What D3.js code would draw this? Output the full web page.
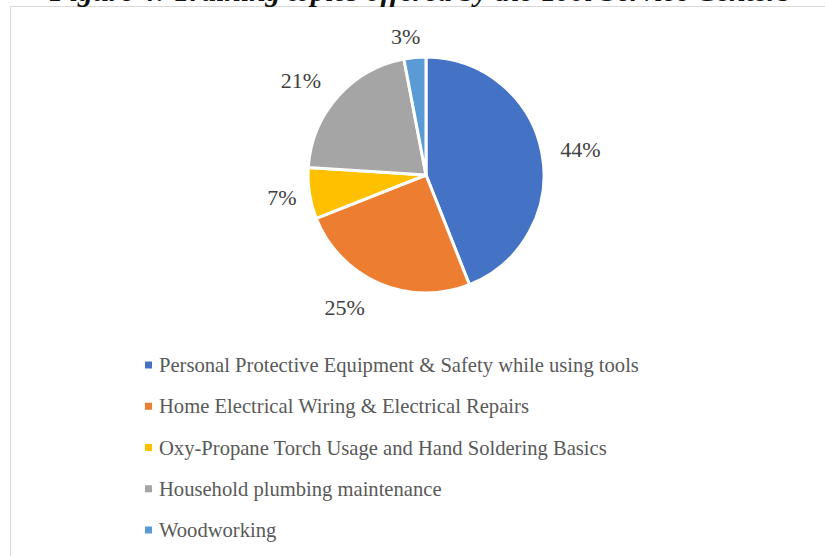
<!DOCTYPE html>
<html>
<head>
<meta charset="utf-8">
<script src="https://cdn.jsdelivr.net/npm/d3@7"></script>
<style>
  html, body { margin: 0; padding: 0; background: #fff; }
  svg { display: block; }
</style>
</head>
<body>
<svg id="chart" width="825" height="556"></svg>
<script>
// Training topics and their share of sessions (%)
const categories = [
  "Personal Protective Equipment & Safety while using tools",
  "Home Electrical Wiring & Electrical Repairs",
  "Oxy-Propane Torch Usage and Hand Soldering Basics",
  "Household plumbing maintenance",
  "Woodworking"
];
const values = [44, 25, 7, 21, 3];
const sliceColors = ["#4472C4", "#ED7D31", "#FFC000", "#A5A5A5", "#5B9BD5"];
const titleText = "Figure 4: Training topics offered by the Tool Service Centers";

const svg = d3.select("#chart");
const W = 825, H = 556;

// Chart area frame
svg.append("rect")
  .attr("x", 10.5).attr("y", 6.5)
  .attr("width", W + 20).attr("height", H + 20)
  .attr("fill", "#fff")
  .attr("stroke", "#d9d9d9")
  .attr("stroke-width", 1);

// Figure caption sits above the chart frame
svg.append("text")
  .attr("x", 420)
  .attr("y", 0.5)
  .attr("text-anchor", "middle")
  .attr("font-family", "'Liberation Serif', serif")
  .attr("font-weight", "bold")
  .attr("font-style", "italic")
  .attr("font-size", 27)
  .attr("textLength", 740)
  .attr("lengthAdjust", "spacingAndGlyphs")
  .attr("fill", "#111")
  .text(titleText);

const cx = 426, cy = 175, R = 118;
const color = d3.scaleOrdinal().domain(categories).range(sliceColors);

const pie = d3.pie().sort(null).value(d => d.value);
const data = categories.map((c, i) => ({ name: c, value: values[i] }));
const arcs = pie(data);

const arc = d3.arc().innerRadius(0).outerRadius(R);
const labelArc = d3.arc().innerRadius(R + 34).outerRadius(R + 34);
// best-fit style nudges for the percentage labels, per slice
const labelNudge = [[5, 3], [-21, -7], [6, -1], [-11, 6], [-6, 13]];

const g = svg.append("g").attr("transform", `translate(${cx},${cy})`);

g.selectAll("path.slice")
  .data(arcs)
  .join("path")
  .attr("class", "slice")
  .attr("d", arc)
  .attr("fill", d => color(d.data.name))
  .attr("stroke", "#fff")
  .attr("stroke-width", 3)
  .attr("stroke-linejoin", "round");

const total = d3.sum(values);
g.selectAll("text.pct")
  .data(arcs)
  .join("text")
  .attr("class", "pct")
  .attr("transform", (d, i) => {
    const [x, y] = labelArc.centroid(d);
    return `translate(${x + labelNudge[i][0]},${y + labelNudge[i][1]})`;
  })
  .attr("text-anchor", "middle")
  .attr("dy", "0.35em")
  .attr("font-family", "'Liberation Serif', serif")
  .attr("font-size", 22)
  .attr("fill", "#404040")
  .text(d => Math.round(d.data.value / total * 100) + "%");

// Legend
const legendY = d3.scalePoint()
  .domain(categories)
  .range([365, 530]);

const legend = svg.append("g");
const items = legend.selectAll("g.item")
  .data(categories)
  .join("g")
  .attr("class", "item")
  .attr("transform", d => `translate(0,${legendY(d)})`);

items.append("rect")
  .attr("x", 145).attr("y", -3.5)
  .attr("width", 7).attr("height", 7)
  .attr("fill", d => color(d));

items.append("text")
  .attr("x", 159)
  .attr("dy", "0.35em")
  .attr("font-family", "'Liberation Serif', serif")
  .attr("font-size", 20.6)
  .attr("fill", "#595959")
  .text(d => d);
</script>
</body>
</html>
